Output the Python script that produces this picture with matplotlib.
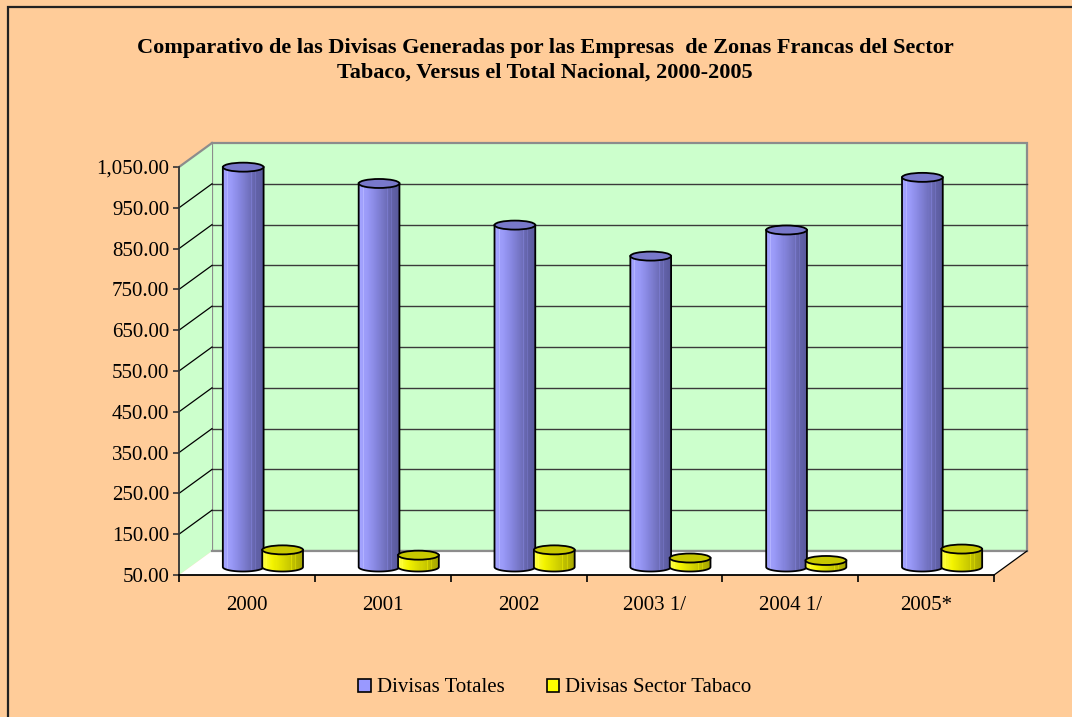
import numpy as np
import matplotlib
matplotlib.use("Agg")
import matplotlib.pyplot as plt
from matplotlib.patches import Rectangle, Polygon, Ellipse, PathPatch, Patch
from matplotlib.collections import PatchCollection
from matplotlib.path import Path
from matplotlib.colors import LinearSegmentedColormap

# data (millones US$)
YEARS = ["2000", "2001", "2002", "2003 1/", "2004 1/", "2005*"]
DIVISAS_TOTALES = [1030, 990, 888, 812, 876, 1005]
DIVISAS_TABACO = [92, 79, 92, 72, 66, 94]
SERIES = ["Divisas Totales", "Divisas Sector Tabaco"]
Y_TICKS = list(range(50, 1051, 100))

BG = "#ffcc99"
WALL = "#ccffcc"
EDGE_GRAY = "#8c8c8c"
BLUE_CMAP = LinearSegmentedColormap.from_list(
    "b", ["#a4a4ff", "#9a9af8", "#8888e2", "#7676c6", "#6464aa", "#58589c"])
YEL_CMAP = LinearSegmentedColormap.from_list(
    "y", ["#ffff50", "#f4f400", "#dada00", "#c0c000", "#a4a400"])
TOP_COLORS = ["#7878ca", "#c8c800"]
LEGEND_COLORS = ["#9999ff", "#ffff00"]

W, H = 1072, 717
DPI = 100
WALL_DEPTH_PX = (33, 24)     # back wall offset
BAR_DEPTH_PX = (16, 8)       # where the cylinders stand
CYL_W = 0.30                 # cylinder width in category units
CYL_GAP = 0.29               # distance between the two cylinders of a year
ELL_H_PX = 9
FS = 15


def main():
    plt.rcParams["font.family"] = ["Liberation Serif", "DejaVu Serif"]
    fig = plt.figure(figsize=(W / DPI, H / DPI), dpi=DPI, facecolor=BG)

    # front plot rectangle in pixels: x 179..994, y 167..575
    ax = fig.add_axes([179 / W, 1 - 575 / H, 815 / W, 408 / H])
    ax.set_xlim(0, len(YEARS))
    ax.set_ylim(Y_TICKS[0], Y_TICKS[-1])
    ax.patch.set_visible(False)
    for s in ax.spines.values():
        s.set_visible(False)

    # pixel -> data scale
    sx = len(YEARS) / 815.0
    sy = (Y_TICKS[-1] - Y_TICKS[0]) / 408.0
    wdx, wdy = WALL_DEPTH_PX[0] * sx, WALL_DEPTH_PX[1] * sy
    bdx, bdy = BAR_DEPTH_PX[0] * sx, BAR_DEPTH_PX[1] * sy
    y0, y1 = Y_TICKS[0], Y_TICKS[-1]
    x1 = len(YEARS)

    # back wall
    ax.add_patch(Rectangle((wdx, y0 + wdy), x1, y1 - y0, facecolor=WALL,
                           edgecolor=EDGE_GRAY, lw=1.6, clip_on=False, zorder=1))
    # left side wall
    ax.add_patch(Polygon([(0, y0), (0, y1), (wdx, y1 + wdy), (wdx, y0 + wdy)],
                         closed=True, facecolor=WALL, edgecolor="none",
                         clip_on=False, zorder=1))
    ax.plot([0, wdx], [y1, y1 + wdy], color=EDGE_GRAY, lw=1.6, clip_on=False, zorder=2)
    # floor
    ax.add_patch(Polygon([(0, y0), (x1, y0), (x1 + wdx, y0 + wdy), (wdx, y0 + wdy)],
                         closed=True, facecolor="white", edgecolor="none",
                         clip_on=False, zorder=1))
    ax.plot([wdx, x1 + wdx], [y0 + wdy, y0 + wdy], color=EDGE_GRAY, lw=1.6,
            clip_on=False, zorder=2)
    ax.plot([x1, x1 + wdx], [y0, y0 + wdy], color="black", lw=0.9,
            clip_on=False, zorder=2)

    # gridlines (back wall + side wall)
    for v in Y_TICKS[1:-1]:
        ax.plot([wdx, x1 + wdx], [v + wdy, v + wdy], color="#3a3a3a", lw=1.0,
                clip_on=False, zorder=2)
        ax.plot([0, wdx], [v, v + wdy], color="black", lw=0.9,
                clip_on=False, zorder=2)

    # front axes lines
    ax.plot([0, 0], [y0, y1], color="#333333", lw=1.3, clip_on=False, zorder=3)
    ax.plot([0, x1], [y0, y0], color="black", lw=1.3, clip_on=False, zorder=3)

    ell_h = ELL_H_PX * sy
    t = np.linspace(np.pi, 2 * np.pi, 40)

    def cylinder(cx, value, cmap, top_color, z):
        base = y0 + bdy
        top = base + (value - y0)
        xl, xr = cx - CYL_W / 2, cx + CYL_W / 2
        # silhouette: left side down, lower half ellipse, right side up
        arc = np.column_stack([cx + CYL_W / 2 * np.cos(t), base + ell_h / 2 * np.sin(t)])
        verts = np.vstack([[xl, top], arc, [xr, top], [xl, top]])
        body = PathPatch(Path(verts, closed=True), facecolor="none",
                         edgecolor="black", lw=1.3, transform=ax.transData, zorder=z + 0.2)
        n = 40
        edges = np.linspace(xl, xr, n + 1)
        strips = [Rectangle((edges[i], base - ell_h), edges[i + 1] - edges[i] + 1e-3,
                            top - base + ell_h) for i in range(n)]
        pos = (np.arange(n) + 0.5) / n
        cols = [cmap(p) for p in pos]
        # small highlight streaks like the office 3D renderer
        for k in (int(0.12 * n), int(0.7 * n), int(0.8 * n)):
            cols[k] = tuple(min(1, c * 1.12) for c in cols[k][:3]) + (1,)
        pc = PatchCollection(strips, facecolors=cols, edgecolors="none",
                             transform=ax.transData, zorder=z)
        pc.set_clip_path(body)
        ax.add_collection(pc)
        ax.add_patch(body)
        body.set_clip_on(False)
        ax.add_patch(Ellipse((cx, top), CYL_W, ell_h, facecolor=top_color,
                             edgecolor="black", lw=1.3, clip_on=False, zorder=z + 0.3))

    for i in range(len(YEARS)):
        c = i + 0.5 + bdx
        cylinder(c - CYL_GAP / 2, DIVISAS_TOTALES[i], BLUE_CMAP, TOP_COLORS[0], 5 + i)
        cylinder(c + CYL_GAP / 2, DIVISAS_TABACO[i], YEL_CMAP, TOP_COLORS[1], 5.5 + i)

    # ticks
    ax.set_yticks(Y_TICKS)
    ax.set_yticklabels([f"{v:,.2f}" for v in Y_TICKS])
    ax.set_xticks(np.arange(len(YEARS) + 1))
    ax.set_xticklabels([""] * (len(YEARS) + 1))
    ax.set_xticks(np.arange(len(YEARS)) + 0.5, minor=True)
    ax.set_xticklabels(YEARS, minor=True)
    ax.tick_params(axis="y", length=4, width=1.2, color="#333333", pad=3,
                   labelsize=FS, labelcolor="black")
    ax.tick_params(axis="x", which="major", length=5, width=1.2, color="black")
    ax.tick_params(axis="x", which="minor", length=0, pad=15, labelsize=FS)

    # title
    fig.text(545 / W, 1 - 60 / H,
             "Comparativo de las Divisas Generadas por las Empresas  de Zonas Francas del Sector\n"
             "Tabaco, Versus el Total Nacional, 2000-2005",
             ha="center", va="center", fontsize=16, fontweight="bold", linespacing=1.3)

    # legend
    handles = [Patch(facecolor=LEGEND_COLORS[k], edgecolor="black", lw=1.2)
               for k in range(2)]
    fig.legend(handles, SERIES, loc="center", bbox_to_anchor=(555 / W, 1 - 688 / H),
               ncol=2, frameon=False, fontsize=FS, handlelength=0.6, handleheight=0.6,
               handletextpad=0.3, columnspacing=2.0)

    # chart-area border (runs off the right and bottom edges)
    fig.patches.append(Rectangle((8 / W, -0.05), 1.1, 1 - 7 / H + 0.05,
                                 transform=fig.transFigure, facecolor="none",
                                 edgecolor="#222222", lw=1.6))

    fig.savefig("out.png", dpi=DPI, facecolor=BG)


if __name__ == "__main__":
    main()
